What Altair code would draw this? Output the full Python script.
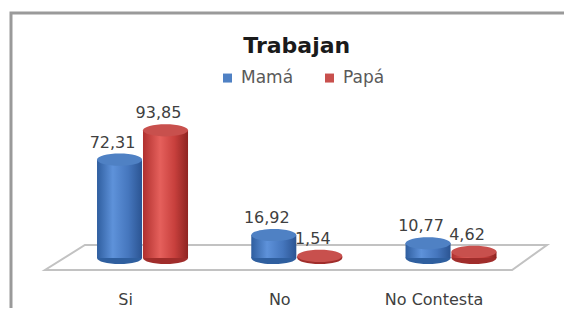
import altair as alt
import pandas as pd

categories = ["Si", "No", "No Contesta"]
series = ["Mamá", "Papá"]
mama = [72.31, 16.92, 10.77]
papa = [93.85, 1.54, 4.62]

rows = []
for c, m, p in zip(categories, mama, papa):
    rows.append({"cat": c, "serie": "Mamá", "valor": m, "cero": 0, "label": f"{m:.2f}".replace(".", ",")})
    rows.append({"cat": c, "serie": "Papá", "valor": p, "cero": 0, "label": f"{p:.2f}".replace(".", ",")})
df = pd.DataFrame(rows)

FONT = "DejaVu Sans"
W, H = 462.75, 136
PAD_L, PAD_T = 57.4, 114
BW = 45

k = 0.27
c = round(0.5523 * k, 4)
ELL = (f"M -1 0 C -1 {-c} -0.5523 {-k} 0 {-k} C 0.5523 {-k} 1 {-c} 1 0 "
       f"C 1 {c} 0.5523 {k} 0 {k} C -0.5523 {k} -1 {c} -1 0 Z")
FLOOR = "M -1 0.0498 L 0.861 0.0498 L 1 -0.0498 L -0.841 -0.0498 Z"

x_enc = alt.X("cat:N", sort=categories, title=None,
              scale=alt.Scale(domain=categories, paddingInner=0.41, paddingOuter=0.205),
              axis=alt.Axis(labelAngle=0, domain=False, ticks=False, labelPadding=33,
                            labelOffset=-17, labelFont=FONT, labelFontSize=16,
                            labelColor="#404040", grid=False))
xo_enc = alt.XOffset("serie:N", sort=series,
                     scale=alt.Scale(domain=series, paddingInner=0.02, paddingOuter=0))
y_enc = alt.Y("valor:Q", scale=alt.Scale(domain=[0, 100]), axis=None)
y0_enc = alt.Y("cero:Q", scale=alt.Scale(domain=[0, 100]), axis=None)


def grad(stops):
    return alt.Gradient(gradient="linear", x1=0, x2=1, y1=0, y2=0,
                        stops=[alt.GradientStop(color=col, offset=o) for o, col in stops])


styles = {
    "Mamá": dict(body=grad([(0, "#2f5e9f"), (0.35, "#5e92da"), (0.7, "#4576bd"), (1, "#2b5492")]),
                 bottom="#2f5f9f"),
    "Papá": dict(body=grad([(0, "#b0302e"), (0.38, "#e5605c"), (0.7, "#c8403d"), (1, "#8e2421")]),
                 bottom="#a02d2b"),
}
color_scale = alt.Scale(domain=series, range=["#4f81c4", "#c8504d"])
base = alt.Chart(df)
one = pd.DataFrame({"a": [0]})

frame = alt.Chart(one).mark_rect(fillOpacity=0, stroke="#9a9a9a", strokeWidth=3).encode(
    x=alt.value(11 - 8 - PAD_L), x2=alt.value(800),
    y=alt.value(13 - 8 - PAD_T), y2=alt.value(500))

floor = alt.Chart(one).mark_point(
    shape=FLOOR, filled=True, fill="white", stroke="#c2c2c2", strokeWidth=2,
    opacity=1, size=502 ** 2
).encode(x=alt.value(296 - 8 - PAD_L), y=alt.value(257.5 - 8 - PAD_T))


def series_layers(s):
    st = styles[s]
    sub = base.transform_filter(alt.datum.serie == s)
    bottom = sub.mark_point(shape=ELL, filled=True, opacity=1, size=BW ** 2,
                            fill=st["bottom"], strokeWidth=0).encode(
        x=x_enc, xOffset=xo_enc, y=y0_enc)
    body = sub.mark_bar(color=st["body"]).encode(x=x_enc, xOffset=xo_enc, y=y_enc)
    top = sub.mark_point(shape=ELL, filled=True, opacity=1, size=BW ** 2, strokeWidth=0).encode(
        x=x_enc, xOffset=xo_enc, y=y_enc,
        color=alt.Color("serie:N", scale=color_scale, title=None,
                        legend=alt.Legend(orient="none", direction="horizontal",
                                          legendX=219 - 8 - PAD_L, legendY=-52.7,
                                          symbolType="square", symbolSize=81,
                                          symbolStrokeWidth=0, labelFont=FONT,
                                          labelFontSize=17, labelColor="#595959",
                                          labelOffset=5, columnPadding=27, padding=0)))
    labels = sub.mark_text(font=FONT, fontSize=16, color="#404040", baseline="alphabetic",
                           dy=-12, dx=-7).encode(x=x_enc, xOffset=xo_enc, y=y_enc, text="label:N")
    return [bottom, body, top, labels]


chart = alt.layer(
    frame, floor,
    *series_layers("Papá"),
    *series_layers("Mamá"),
).properties(
    width=W, height=H,
    title=alt.Title("Trabajan", font=FONT, fontSize=22, fontWeight="bold", color="#1a1a1a",
                    anchor="middle", offset=0, dy=63.5, baseline="alphabetic", frame="group"),
    autosize=alt.AutoSizeParams(type="none"),
    padding={"left": PAD_L, "top": PAD_T, "right": 572 - 16 - PAD_L - W, "bottom": 50},
).configure_view(stroke=None)

chart.save("out.html", embed_options={"renderer": "svg", "actions": False})
